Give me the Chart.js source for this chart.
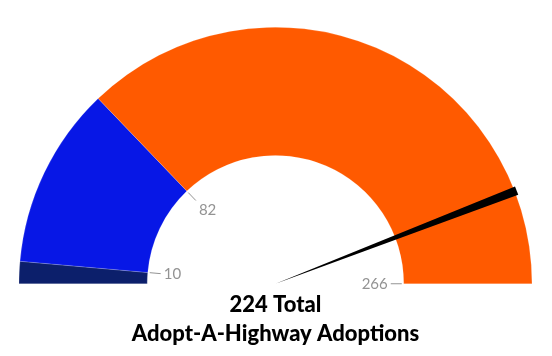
<!DOCTYPE html>
<html><head><meta charset="utf-8">
<script src="https://cdn.jsdelivr.net/npm/chart.js@4.4.1/dist/chart.umd.min.js"></script>
<style>html,body{margin:0;padding:0;background:#fff}#wrap{width:552px;height:356px;position:relative}</style>
</head><body><div id="wrap"><canvas id="c" width="552" height="356"></canvas></div>
<script>
const categories = ['Low', 'Mid', 'High'];
const segmentValues = [10, 82, 266];
const segmentLabels = ['10', '82', '266'];
const segmentColors = ['#0c1f6b', '#0717e6', '#ff5a00'];
const needleValue = 316;
const titleLines = ['224 Total', 'Adopt-A-Highway Adoptions'];

const FONT = 'Lato, "Open Sans", sans-serif';

const gaugePlugin = {
  id: 'gauge',
  afterDatasetsDraw(chart) {
    const ctx = chart.ctx;
    const meta = chart.getDatasetMeta(0);
    const arcs = meta.data;
    const cx = arcs[0].x, cy = arcs[0].y;
    const outer = arcs[0].outerRadius, inner = arcs[0].innerRadius;
    const total = segmentValues.reduce((a, b) => a + b, 0);
    ctx.save();
    ctx.font = '15px ' + FONT;
    ctx.fillStyle = '#939393';
    ctx.strokeStyle = '#939393';
    ctx.lineWidth = 1;
    arcs.forEach((arc, i) => {
      const a = arc.endAngle;
      const cos = Math.cos(a), sin = Math.sin(a);
      const r1 = inner - 2, r2 = inner - 13;
      ctx.beginPath();
      ctx.moveTo(cx + cos * r1, cy + sin * r1);
      ctx.lineTo(cx + cos * r2, cy + sin * r2);
      ctx.stroke();
      const r3 = inner - 16;
      const tx = cx + cos * r3, ty = cy + sin * r3;
      ctx.textBaseline = 'middle';
      ctx.textAlign = cos > 0.5 ? 'right' : 'left';
      let ox = 0, oy = 0;
      if (!(cos > 0.5) && !(cos < -0.8)) { ox = 1; oy = 8; }
      ctx.fillText(segmentLabels[i], tx + ox, ty + oy);
    });
    ctx.restore();
    // needle
    const start = arcs[0].startAngle;
    const end = arcs[arcs.length - 1].endAngle;
    const ang = start + (end - start) * needleValue / total;
    const len = outer + 2, hw = 4.5;
    const tx = cx + Math.cos(ang) * len, ty = cy + Math.sin(ang) * len;
    const px = -Math.sin(ang) * hw, py = Math.cos(ang) * hw;
    ctx.save();
    ctx.fillStyle = '#000';
    ctx.beginPath();
    ctx.moveTo(cx, cy);
    ctx.lineTo(tx + px, ty + py);
    ctx.lineTo(tx - px, ty - py);
    ctx.closePath();
    ctx.fill();
    ctx.restore();
    // title text
    ctx.save();
    ctx.fillStyle = '#000';
    ctx.font = '900 22px ' + FONT;
    ctx.textAlign = 'center';
    ctx.textBaseline = 'middle';
    ctx.fillText(titleLines[0], cx, 305);
    ctx.fillText(titleLines[1], cx, 334);
    ctx.restore();
  }
};

new Chart(document.getElementById('c'), {
  type: 'doughnut',
  data: {
    labels: categories,
    datasets: [{
      data: segmentValues,
      backgroundColor: segmentColors,
      borderColor: 'rgba(255,255,255,0.35)',
      borderWidth: 0.5
    }]
  },
  options: {
    responsive: false,
    animation: false,
    rotation: -90,
    circumference: 180,
    cutout: '50%',
    layout: { padding: { left: 18, right: 19, top: 27, bottom: 72 } },
    plugins: { legend: { display: false }, tooltip: { enabled: false }, title: { display: false } }
  },
  plugins: [gaugePlugin]
});
</script></body></html>
